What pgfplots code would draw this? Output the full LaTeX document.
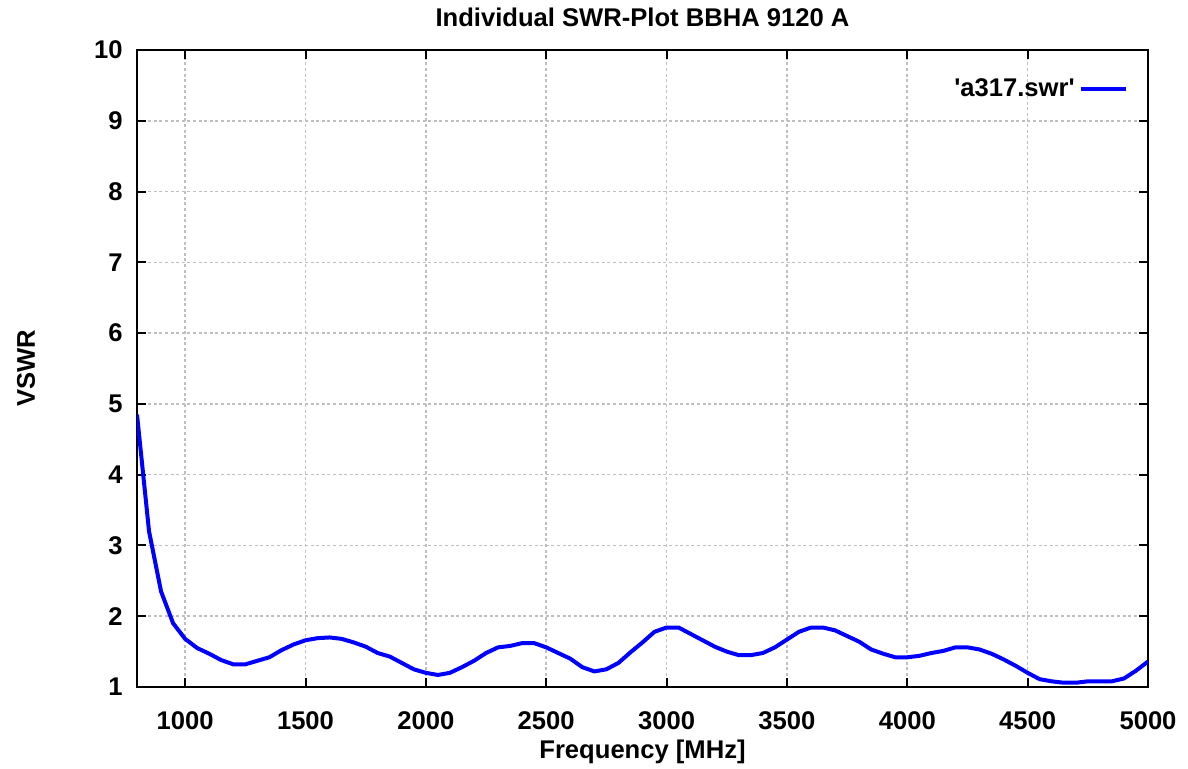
\documentclass[border=0pt]{standalone}
\usepackage{fontspec}
\setmainfont{Liberation Sans}[Ligatures=TeXOff]
\usepackage{pgfplots}
\pgfplotsset{compat=1.18}

\pgfplotstableread{
f v
800 4.85
850 3.20
900 2.35
950 1.90
1000 1.68
1050 1.55
1100 1.47
1150 1.38
1200 1.32
1250 1.32
1300 1.37
1350 1.42
1400 1.52
1450 1.60
1500 1.66
1550 1.69
1600 1.70
1650 1.68
1700 1.63
1750 1.57
1800 1.48
1850 1.43
1900 1.34
1950 1.25
2000 1.20
2050 1.17
2100 1.20
2150 1.28
2200 1.37
2250 1.48
2300 1.56
2350 1.58
2400 1.62
2450 1.62
2500 1.56
2550 1.48
2600 1.40
2650 1.28
2700 1.22
2750 1.25
2800 1.34
2850 1.49
2900 1.63
2950 1.78
3000 1.84
3050 1.84
3100 1.75
3150 1.66
3200 1.57
3250 1.50
3300 1.45
3350 1.45
3400 1.48
3450 1.56
3500 1.67
3550 1.78
3600 1.84
3650 1.84
3700 1.80
3750 1.72
3800 1.64
3850 1.53
3900 1.47
3950 1.42
4000 1.42
4050 1.44
4100 1.48
4150 1.51
4200 1.56
4250 1.56
4300 1.53
4350 1.47
4400 1.39
4450 1.30
4500 1.20
4550 1.11
4600 1.08
4650 1.06
4700 1.06
4750 1.08
4800 1.08
4850 1.08
4900 1.12
4950 1.23
5000 1.36
}\swrdata

\begin{document}
\begin{tikzpicture}
\useasboundingbox (0,0) rectangle (594pt,384.5pt);
\begin{axis}[
  at={(68.5pt,41pt)}, anchor=south west,
  scale only axis, width=505.5pt, height=318.5pt,
  xmin=800, xmax=5000, ymin=1, ymax=10,
  xtick={1000,1500,...,5000}, ytick={1,2,...,10},
  axis line style={line width=1pt, black},
  major tick length=4.5pt,
  tick style={line width=1pt, black},
  grid=major,
  grid style={gray!50, line width=0.8pt, dash pattern=on 1.5pt off 1.3pt},
  /pgf/number format/assume math mode=true,
  /pgf/number format/1000 sep={},
  ticklabel style={font=\fontsize{12.8}{15}\selectfont\bfseries},
  xticklabel style={anchor=base, inner sep=0pt, yshift=-21.5pt},
  yticklabel style={anchor=east, inner sep=0pt, xshift=-7pt},
  title={Individual SWR-Plot BBHA 9120 A},
  title style={font=\fontsize{12.8}{15}\selectfont\bfseries, at={(axis description cs:0.5,1)}, anchor=base, inner sep=0pt, yshift=5.5pt},
  xlabel={Frequency [MHz]},
  xlabel style={font=\fontsize{12.8}{15}\selectfont\bfseries, at={(axis description cs:0.5,0)}, anchor=base, inner sep=0pt, yshift=-36pt},
  ylabel={VSWR},
  ylabel style={font=\fontsize{12.8}{15}\selectfont\bfseries, at={(axis description cs:-0.1009,0.5)}, anchor=base, inner sep=0pt},
  legend plot pos=right,
  legend cell align=right,
  legend style={at={(axis description cs:1,1)}, anchor=north east, xshift=-10pt, yshift=-12pt,
    draw=none, fill=none, inner sep=0pt, font=\fontsize{12.8}{15}\selectfont\bfseries},
  legend image code/.code={\draw[#1] (0pt,0pt) -- (22.5pt,0pt);},
]
\addplot[blue, line width=2pt, line join=round] table[x=f, y=v] {\swrdata};
\addlegendentry{'a317.swr'}
\end{axis}
\end{tikzpicture}
\end{document}
